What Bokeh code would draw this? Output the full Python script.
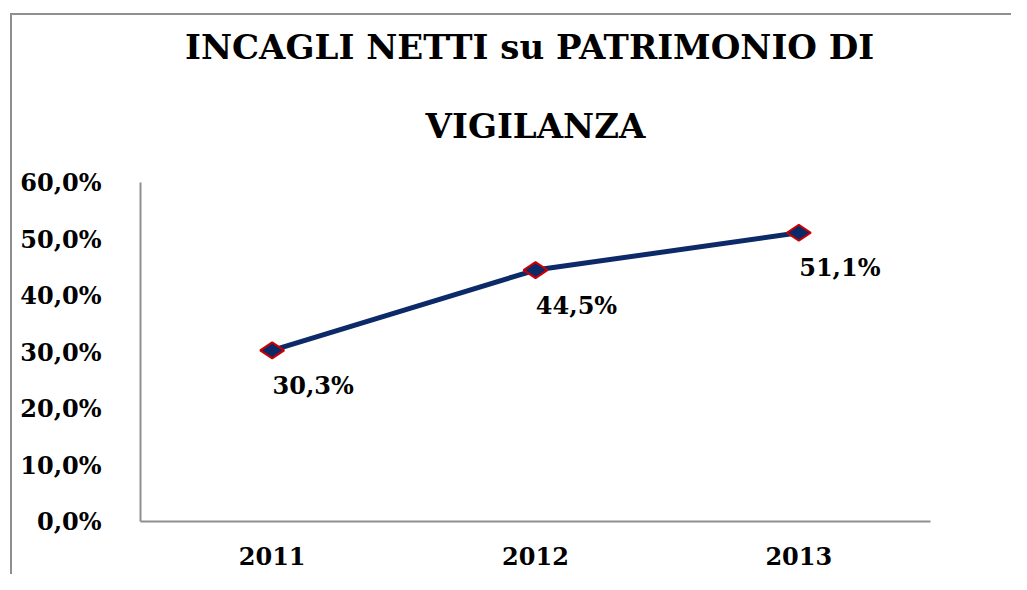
import numpy as np
from bokeh.plotting import figure
from bokeh.models import Range1d, FactorRange, Title, ColumnDataSource, FixedTicker, CustomJSTickFormatter
from bokeh.core.properties import value
from bokeh.embed import file_html
from bokeh.resources import INLINE

years = ["2011", "2012", "2013"]
values = [30.3, 44.5, 51.1]
labels = ["30,3%", "44,5%", "51,1%"]
y_ticks = [0, 10, 20, 30, 40, 50, 60]
title_lines = ["INCAGLI  NETTI su PATRIMONIO DI", "VIGILANZA"]

FONT = "DejaVu Serif"
GRAY = "#8f8f8f"

p = figure(width=1011, height=574, x_range=FactorRange(*years, range_padding=0),
           y_range=Range1d(0, 60), output_backend="svg", toolbar_location=None,
           min_border_left=140, min_border_right=81, min_border_top=182, min_border_bottom=53)
p.outline_line_color = None
p.grid.grid_line_color = None
p.border_fill_color = None
p.background_fill_color = None
# chart-area border (left and top edges visible in the reference)
p.styles = {
    "background": (f"linear-gradient({GRAY}, {GRAY}) 10px 13px / 2px calc(100% - 13px) no-repeat, "
                   f"linear-gradient({GRAY}, {GRAY}) 10px 13px / calc(100% - 10px) 2px no-repeat, "
                   "#ffffff"),
}

# axes
p.yaxis.ticker = FixedTicker(ticks=y_ticks)
p.yaxis.formatter = CustomJSTickFormatter(code="return tick.toFixed(1).replace('.', ',') + '%';")
for ax in (p.xaxis[0], p.yaxis[0]):
    ax.axis_line_color = GRAY
    ax.axis_line_width = 2
    ax.major_tick_line_color = None
    ax.minor_tick_line_color = None
    ax.major_label_text_font = FONT
    ax.major_label_text_font_style = "bold"
    ax.major_label_text_font_size = "24px"
    ax.major_label_text_color = "black"
p.yaxis.major_label_standoff = 33
p.xaxis.major_label_standoff = 19

src = ColumnDataSource(dict(x=years, y=values, t=labels))
p.line("x", "y", source=src, line_color="#0c2a68", line_width=5)
p.scatter("x", "y", source=src, marker="diamond", angle=np.pi / 2, size=24,
          fill_color="#0c2a68", line_color="#cc0000", line_width=2)
p.text("x", "y", text="t", source=src, x_offset=41, y_offset=35, text_align="center",
       text_baseline="middle", text_font=value(FONT), text_font_style="bold",
       text_font_size="24px", text_color="black")

# title: second line added first so it sits nearest the plot
p.add_layout(Title(text=title_lines[1], align="center", offset=-10, text_font=FONT,
                   text_font_style="bold", text_font_size="34px", text_color="black",
                   standoff=74), "above")
p.add_layout(Title(text=title_lines[0], align="center", offset=-10, text_font=FONT,
                   text_font_style="bold", text_font_size="34px", text_color="black",
                   standoff=0), "above")

open("out.html", "w").write(file_html(p, INLINE))
